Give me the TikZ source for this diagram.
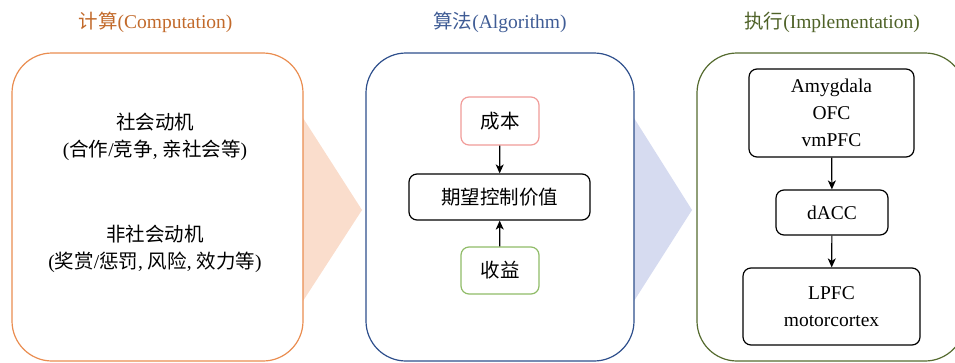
\documentclass[tikz,border=0pt]{standalone}
\usepackage{fontspec}
\setmainfont{Liberation Serif}
\newfontfamily\cjk{Noto Sans CJK SC}
\newcommand\zh[1]{{\cjk #1}}
\usetikzlibrary{arrows.meta}
\definecolor{orangeT}{HTML}{C26A2B}
\definecolor{orangeB}{HTML}{EA8D50}
\definecolor{orangeF}{HTML}{FADDCC}
\definecolor{blueT}{HTML}{3F5C95}
\definecolor{blueB}{HTML}{2E4F8C}
\definecolor{blueF}{HTML}{D6DBF0}
\definecolor{oliveT}{HTML}{4F6228}
\definecolor{oliveB}{HTML}{556B2F}
\definecolor{redB}{HTML}{F19C99}
\definecolor{greenB}{HTML}{90BC68}
\tikzset{
  txt/.style={font=\fontsize{19.5}{27}\selectfont, align=center, inner sep=0pt},
  bigbox/.style={draw, line width=1.2pt, rounded corners=40pt, fill=white, minimum height=308pt, inner sep=0pt},
  small/.style={draw, line width=1.2pt, rounded corners=8pt, fill=white, inner sep=0pt, txt},
  conn/.style={line width=1.2pt, -{Stealth[length=9pt,width=8pt,inset=2.5pt]}},
}
\begin{document}
\begin{tikzpicture}[x=1pt,y=-1pt]
\useasboundingbox (0,0) rectangle (955,362);
% chevrons
\fill[orangeF] (303,118) -- (362,210) -- (303,301) -- cycle;
\fill[blueF] (634,118) -- (692,210) -- (634,301) -- cycle;
% big boxes
\node[bigbox, draw=orangeB, minimum width=291pt] (b1) at (157.5,207) {};
\node[bigbox, draw=blueB, minimum width=268pt] (b2) at (500,207) {};
\node[bigbox, draw=oliveB, minimum width=268pt] (b3) at (831,207) {};
% titles
\node[txt, text=orangeT] (t1) at (155.5,22) {\zh{计算}(Computation)};
\node[txt, text=blueT] (t2) at (500,22) {\zh{算法}(Algorithm)};
\node[txt, text=oliveT] (t3) at (832,22) {\zh{执行}(Implementation)};
% box 1 text
\node[txt] (s1) at (155,137) {\zh{社会动机}\\(\zh{合作}/\zh{竞争}, \zh{亲社会等})};
\node[txt] (s2) at (155,249) {\zh{非社会动机}\\(\zh{奖赏}/\zh{惩罚}, \zh{风险}, \zh{效力等})};
% box 2
\node[small, draw=redB, minimum width=78pt, minimum height=48pt] (cost) at (500,121) {\zh{成本}};
\node[small, minimum width=181pt, minimum height=46pt] (val) at (499.5,197) {\zh{期望控制价值}};
\node[small, draw=greenB, minimum width=78pt, minimum height=47pt] (gain) at (500,270.5) {\zh{收益}};
\draw[conn] (cost) -- (val);
\draw[conn] (gain) -- (val);
% box 3
\node[small, minimum width=165pt, minimum height=88pt] (amy) at (831.5,113) {Amygdala\\OFC\\vmPFC};
\node[small, minimum width=112pt, minimum height=45pt] (dacc) at (832,212.5) {dACC};
\node[small, minimum width=177pt, minimum height=77pt] (lpfc) at (831.5,306.5) {LPFC\\motorcortex};
\draw[conn] (amy) -- (dacc);
\draw[conn] (dacc) -- (lpfc);
\end{tikzpicture}
\end{document}
